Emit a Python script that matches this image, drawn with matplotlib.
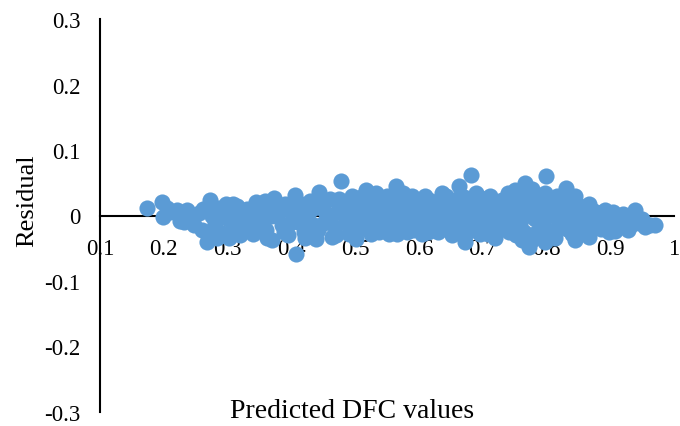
import matplotlib.pyplot as plt

plt.rcParams['font.family'] = ['Liberation Serif', 'DejaVu Serif']

# predicted DFC values and their residuals
predicted = [
    0.173, 0.197, 0.198, 0.210, 0.220, 0.225, 0.236, 0.240, 0.248, 0.255,
    0.260, 0.267, 0.272, 0.275, 0.280, 0.285, 0.292, 0.298, 0.300, 0.305,
    0.310, 0.315, 0.320, 0.325, 0.330, 0.335, 0.340, 0.345, 0.350, 0.355,
    0.360, 0.365, 0.370, 0.373, 0.378, 0.385, 0.390, 0.395, 0.400, 0.405,
    0.408, 0.410, 0.415, 0.420, 0.425, 0.430, 0.435, 0.439, 0.444, 0.450,
    0.455, 0.460, 0.464, 0.468, 0.472, 0.478, 0.480, 0.485, 0.490, 0.495,
    0.500, 0.502, 0.508, 0.512, 0.517, 0.520, 0.525, 0.530, 0.535, 0.540,
    0.545, 0.550, 0.553, 0.558, 0.564, 0.568, 0.572, 0.578, 0.582, 0.589,
    0.592, 0.598, 0.605, 0.608, 0.612, 0.616, 0.620, 0.625, 0.630, 0.636,
    0.640, 0.645, 0.648, 0.652, 0.656, 0.663, 0.666, 0.670, 0.673, 0.676,
    0.681, 0.684, 0.689, 0.692, 0.696, 0.700, 0.705, 0.710, 0.715, 0.720,
    0.725, 0.730, 0.733, 0.738, 0.742, 0.746, 0.751, 0.755, 0.758, 0.762,
    0.767, 0.770, 0.772, 0.775, 0.780, 0.783, 0.787, 0.790, 0.795, 0.798,
    0.800, 0.803, 0.808, 0.812, 0.816, 0.820, 0.825, 0.830, 0.833, 0.838,
    0.842, 0.845, 0.845, 0.850, 0.855, 0.860, 0.866, 0.866, 0.870, 0.878,
    0.885, 0.892, 0.895, 0.902, 0.908, 0.912, 0.917, 0.925, 0.932, 0.939,
    0.945, 0.955, 0.970,
    0.205, 0.232, 0.262, 0.270, 0.283, 0.290, 0.302, 0.308, 0.318, 0.328,
    0.338, 0.348, 0.358, 0.362, 0.368, 0.382, 0.388, 0.398, 0.403, 0.418,
    0.422, 0.428, 0.433, 0.442, 0.448, 0.452, 0.462, 0.470, 0.475, 0.488,
    0.492, 0.498, 0.505, 0.510, 0.515, 0.522, 0.528, 0.532, 0.538, 0.543,
    0.548, 0.555, 0.560, 0.565, 0.570, 0.575, 0.580, 0.585, 0.590, 0.595,
    0.600, 0.603, 0.610, 0.615, 0.618, 0.622, 0.628, 0.633, 0.638, 0.642,
    0.650, 0.655, 0.660, 0.662, 0.668, 0.672, 0.678, 0.686, 0.690, 0.694,
    0.698, 0.702, 0.708, 0.712, 0.718, 0.722, 0.728, 0.735, 0.740, 0.744,
    0.748, 0.753, 0.757, 0.760, 0.765, 0.768, 0.773, 0.777, 0.778, 0.782,
    0.785, 0.788, 0.792, 0.797, 0.800, 0.805, 0.810, 0.814, 0.818, 0.822,
    0.828, 0.835, 0.840, 0.848, 0.852, 0.858, 0.862, 0.872, 0.875, 0.882,
    0.888, 0.898, 0.905, 0.920, 0.928, 0.950, 0.962,
]
residual = [
    0.012, 0.021, -0.003, 0.005, 0.008, -0.008, 0.009, -0.002, -0.015, 0.004,
    -0.022, -0.041, 0.023, 0.000, -0.012, 0.012, -0.026, 0.017, -0.005, 0.005,
    -0.018, 0.015, -0.030, 0.000, 0.010, -0.015, -0.028, 0.020, 0.005, -0.008,
    -0.022, 0.012, -0.038, 0.027, 0.000, -0.015, 0.018, -0.030, 0.005, 0.032,
    -0.059, -0.010, 0.018, -0.025, 0.000, 0.022, -0.015, -0.036, 0.036, 0.010,
    -0.005, 0.025, -0.033, -0.018, 0.005, 0.053, 0.018, -0.010, -0.028, 0.030,
    0.000, -0.036, 0.015, -0.018, 0.039, 0.005, -0.028, 0.022, -0.008, 0.012,
    -0.022, 0.030, -0.029, 0.000, 0.045, 0.015, -0.015, 0.025, -0.025, 0.030,
    0.005, -0.010, -0.029, 0.018, -0.002, 0.024, -0.018, 0.010, -0.025, 0.035,
    0.000, 0.020, -0.012, -0.030, 0.012, 0.045, -0.020, 0.028, -0.041, 0.005,
    0.062, -0.010, 0.035, 0.018, -0.028, 0.000, 0.025, -0.018, 0.010, -0.035,
    0.020, 0.024, -0.008, 0.005, -0.025, 0.030, 0.039, 0.012, -0.015, -0.038,
    0.050, 0.020, -0.048, 0.000, -0.028, 0.030, 0.010, -0.015, 0.022, -0.041,
    0.061, 0.000, -0.025, 0.015, 0.030, -0.010, 0.005, 0.042, -0.020, 0.015,
    -0.005, 0.030, -0.038, 0.008, -0.018, 0.000, 0.017, -0.033, -0.008, 0.005,
    -0.020, 0.009, -0.005, -0.015, -0.023, 0.000, -0.011, -0.005, -0.015, 0.008,
    -0.012, -0.018, -0.015,
    0.012, -0.010, 0.010, -0.025, -0.035, 0.000, -0.035, 0.018, -0.010, -0.022,
    0.005, -0.018, 0.022, -0.035, 0.000, 0.015, -0.025, -0.012, 0.020, 0.005,
    -0.035, -0.010, 0.010, -0.022, 0.022, -0.012, 0.000, -0.030, 0.025, 0.008,
    -0.015, 0.015, -0.022, 0.028, -0.005, 0.018, -0.015, 0.035, -0.025, 0.002,
    0.018, -0.012, 0.022, -0.028, 0.005, 0.035, -0.005, 0.015, -0.022, 0.020,
    0.005, -0.015, 0.030, -0.025, 0.008, 0.020, -0.008, 0.015, -0.018, 0.030,
    0.005, -0.022, 0.025, -0.005, 0.012, -0.030, 0.020, -0.022, 0.005, 0.028,
    -0.012, 0.012, -0.028, 0.030, -0.008, 0.008, -0.020, 0.015, 0.035, -0.012,
    0.000, -0.030, 0.025, 0.003, -0.025, 0.035, 0.010, -0.038, 0.040, -0.005,
    0.020, -0.032, 0.005, 0.035, -0.020, 0.012, 0.025, -0.035, 0.000, 0.018,
    -0.015, 0.025, -0.028, 0.018, -0.008, 0.012, -0.025, 0.008, -0.018, -0.005,
    0.000, -0.025, 0.005, 0.002, -0.022, -0.005, -0.015,
]

x_ticks = [0.1, 0.2, 0.3, 0.4, 0.5, 0.6, 0.7, 0.8, 0.9, 1.0]
x_labels = ['0.1', '0.2', '0.3', '0.4', '0.5', '0.6', '0.7', '0.8', '0.9', '1']
y_ticks = [-0.3, -0.2, -0.1, 0, 0.1, 0.2, 0.3]
y_labels = ['-0.3', '-0.2', '-0.1', '0', '0.1', '0.2', '0.3']

fig = plt.figure(figsize=(6.8, 4.27), dpi=100)
ax = fig.add_axes([100 / 680, 14 / 427, 574 / 680, 393 / 427])

ax.scatter(predicted, residual, s=135, color='#5B9BD5', linewidths=0, zorder=2)

ax.set_xlim(0.1, 1.0)
ax.set_ylim(-0.3, 0.3)

# x axis crosses at zero, y axis at the left edge
ax.spines['bottom'].set_position(('data', 0))
ax.spines['bottom'].set_zorder(1)
ax.spines['top'].set_visible(False)
ax.spines['right'].set_visible(False)
for side in ['bottom', 'left']:
    ax.spines[side].set_linewidth(1.5)

ax.set_xticks(x_ticks)
ax.set_xticklabels(x_labels)
ax.set_yticks(y_ticks)
ax.set_yticklabels(y_labels)
ax.tick_params(axis='x', length=0, pad=16, labelsize=16.5)
ax.tick_params(axis='y', length=0, pad=14, labelsize=16.5)

fig.text(352 / 680, 1 - 418 / 427, 'Predicted DFC values', ha='center', va='baseline', fontsize=20)
fig.text(27 / 680, 1 - 201 / 427, 'Residual', ha='center', va='center', rotation=90, fontsize=19)

fig.savefig('out.png', dpi=100)
